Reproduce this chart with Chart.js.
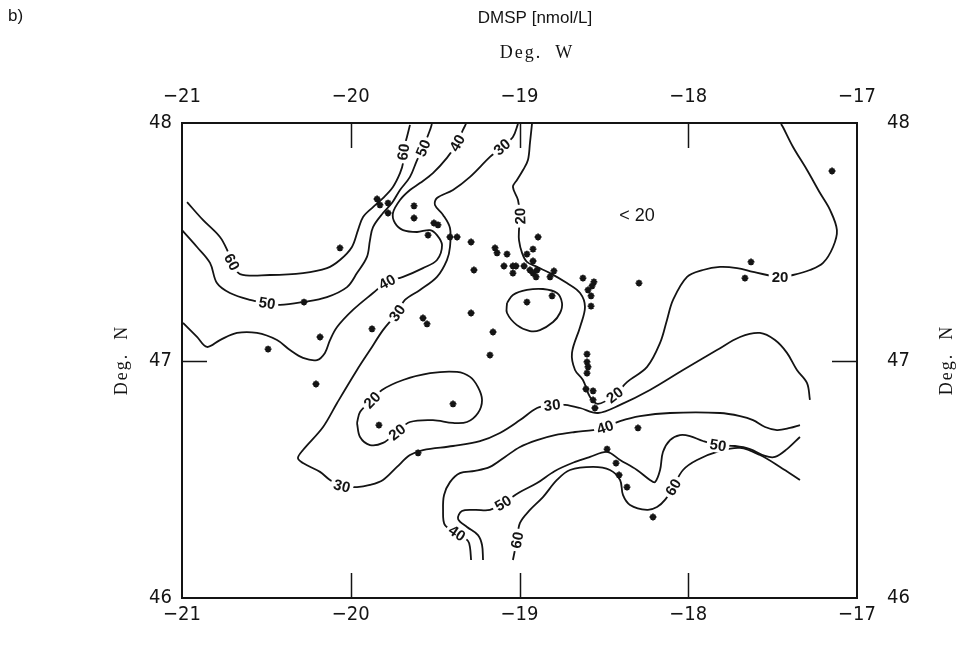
<!DOCTYPE html>
<html>
<head>
<meta charset="utf-8">
<title>DMSP [nmol/L]</title>
<script src="https://cdn.jsdelivr.net/npm/chart.js@4.4.1/dist/chart.umd.min.js"></script>
<style>
  html, body { margin: 0; padding: 0; background: #fff; }
  #wrap { width: 958px; height: 645px; }
</style>
</head>
<body>
<div id="wrap"><canvas id="dmspChart" width="958" height="645"></canvas></div>
<script>
// axis ticks (degrees)
const lonTicks = [-21, -20, -19, -18, -17];
const latTicks = [46, 47, 48];

// sampling stations [lon, lat]
const stations = [
  [-19.844, 47.680], [-19.827, 47.655], [-19.779, 47.663], [-19.779, 47.621],
  [-19.625, 47.651], [-19.625, 47.600], [-19.507, 47.579], [-19.483, 47.571], [-19.542, 47.528],
  [-19.412, 47.520], [-19.370, 47.520], [-19.287, 47.499], [-19.145, 47.474], [-19.133, 47.453], [-19.074, 47.448],
  [-19.270, 47.381], [-19.092, 47.398], [-19.039, 47.398], [-19.021, 47.398], [-19.039, 47.368], [-18.973, 47.398],
  [-18.956, 47.448], [-18.920, 47.469], [-18.890, 47.520], [-18.920, 47.419], [-18.938, 47.381], [-18.920, 47.368],
  [-18.902, 47.352], [-18.896, 47.381], [-18.819, 47.352], [-18.796, 47.377], [-18.956, 47.246], [-18.807, 47.272],
  [-18.624, 47.347], [-18.559, 47.331], [-18.570, 47.314], [-18.594, 47.297], [-18.576, 47.272], [-18.576, 47.229],
  [-18.292, 47.326], [-17.628, 47.415], [-17.664, 47.347], [-17.148, 47.798],
  [-20.064, 47.474], [-20.277, 47.246], [-20.182, 47.099], [-20.490, 47.048], [-19.874, 47.133],
  [-19.572, 47.179], [-19.548, 47.154], [-19.287, 47.200], [-19.157, 47.120], [-19.175, 47.023],
  [-20.206, 46.901], [-19.833, 46.728], [-19.394, 46.817], [-19.601, 46.611],
  [-18.600, 47.027], [-18.600, 46.994], [-18.594, 46.973], [-18.600, 46.947], [-18.606, 46.880], [-18.564, 46.872],
  [-18.564, 46.834], [-18.553, 46.800], [-18.298, 46.716], [-18.481, 46.627], [-18.428, 46.568], [-18.410, 46.518],
  [-18.363, 46.467], [-18.209, 46.341]
];

// contour lines [lon, lat]
const contour60North = [
  [-20.970, 47.667], [-20.876, 47.592], [-20.775, 47.520], [-20.727, 47.457], [-20.704, 47.415], [-20.656, 47.364],
  [-20.479, 47.360], [-20.283, 47.368], [-20.141, 47.389], [-20.064, 47.423], [-19.993, 47.478], [-19.957, 47.549],
  [-19.927, 47.604], [-19.868, 47.646], [-19.809, 47.684], [-19.750, 47.731], [-19.708, 47.789], [-19.690, 47.832],
  [-19.690, 47.878], [-19.667, 47.941], [-19.649, 47.992]
];
const contour50North = [
  [-21.000, 47.549], [-20.911, 47.478], [-20.834, 47.411], [-20.793, 47.326], [-20.716, 47.284], [-20.597, 47.255],
  [-20.496, 47.242], [-20.419, 47.234], [-20.283, 47.246], [-20.141, 47.267], [-20.022, 47.309], [-19.963, 47.368],
  [-19.904, 47.436], [-19.886, 47.507], [-19.868, 47.562], [-19.809, 47.621], [-19.756, 47.663], [-19.708, 47.718],
  [-19.649, 47.773], [-19.607, 47.844], [-19.572, 47.895], [-19.530, 47.971], [-19.519, 47.996]
];
const contour40North = [
  [-20.994, 47.158], [-20.911, 47.099], [-20.852, 47.057], [-20.775, 47.086], [-20.674, 47.116], [-20.556, 47.116],
  [-20.437, 47.086], [-20.360, 47.044], [-20.283, 47.011], [-20.200, 47.002], [-20.153, 47.032], [-20.123, 47.086],
  [-20.081, 47.141], [-19.987, 47.213], [-19.868, 47.284], [-19.785, 47.331], [-19.690, 47.352], [-19.572, 47.389],
  [-19.489, 47.423], [-19.459, 47.486], [-19.489, 47.528], [-19.530, 47.549], [-19.607, 47.541], [-19.690, 47.549],
  [-19.738, 47.579], [-19.750, 47.621], [-19.708, 47.676], [-19.649, 47.718], [-19.590, 47.747], [-19.513, 47.789],
  [-19.430, 47.853], [-19.370, 47.916], [-19.335, 47.971], [-19.317, 47.996]
];
const contour30 = [
  [-19.009, 47.996], [-19.039, 47.941], [-19.104, 47.899], [-19.175, 47.857], [-19.293, 47.773], [-19.394, 47.718],
  [-19.489, 47.684], [-19.501, 47.655], [-19.453, 47.613], [-19.412, 47.558], [-19.412, 47.478], [-19.430, 47.423],
  [-19.489, 47.352], [-19.590, 47.297], [-19.679, 47.255], [-19.726, 47.200], [-19.809, 47.128], [-19.886, 47.044],
  [-19.963, 46.960], [-20.081, 46.821], [-20.164, 46.720], [-20.283, 46.623], [-20.313, 46.589], [-20.283, 46.568],
  [-20.182, 46.531], [-20.123, 46.497], [-20.052, 46.472], [-19.963, 46.467], [-19.886, 46.476], [-19.809, 46.497],
  [-19.726, 46.552], [-19.649, 46.602], [-19.572, 46.623], [-19.394, 46.640], [-19.234, 46.661], [-19.116, 46.695],
  [-18.997, 46.749], [-18.896, 46.800], [-18.807, 46.813], [-18.730, 46.813], [-18.641, 46.800], [-18.535, 46.779],
  [-18.404, 46.813], [-18.227, 46.876], [-18.031, 46.960], [-17.830, 47.044], [-17.693, 47.099], [-17.575, 47.116],
  [-17.486, 47.086], [-17.415, 47.032], [-17.356, 46.960], [-17.296, 46.905], [-17.279, 46.834]
];
const contour20 = [
  [-18.926, 47.996], [-18.938, 47.916], [-18.950, 47.844], [-18.979, 47.802], [-19.015, 47.760], [-19.039, 47.731],
  [-19.009, 47.676], [-18.997, 47.608], [-19.003, 47.549], [-19.003, 47.507], [-18.985, 47.453], [-18.956, 47.415],
  [-18.896, 47.394], [-18.819, 47.368], [-18.719, 47.326], [-18.641, 47.284], [-18.612, 47.225], [-18.641, 47.141],
  [-18.689, 47.032], [-18.671, 46.960], [-18.624, 46.918], [-18.582, 46.846], [-18.535, 46.817], [-18.436, 46.855],
  [-18.363, 46.909], [-18.244, 46.973], [-18.167, 47.074], [-18.126, 47.171], [-18.090, 47.255], [-18.007, 47.352],
  [-17.913, 47.381], [-17.812, 47.394], [-17.711, 47.389], [-17.616, 47.373], [-17.533, 47.360], [-17.456, 47.352],
  [-17.379, 47.360], [-17.279, 47.381], [-17.201, 47.411], [-17.142, 47.478], [-17.119, 47.549], [-17.160, 47.634],
  [-17.219, 47.705], [-17.296, 47.802], [-17.379, 47.899], [-17.439, 47.983], [-17.450, 47.996]
];
const contour20Ring = [
  [-19.074, 47.242], [-19.039, 47.276], [-18.956, 47.297], [-18.861, 47.301], [-18.778, 47.284], [-18.748, 47.242],
  [-18.760, 47.200], [-18.801, 47.162], [-18.879, 47.128], [-18.938, 47.124], [-19.015, 47.149], [-19.074, 47.200],
  [-19.074, 47.242]
];
const contour20West = [
  [-19.963, 46.737], [-19.945, 46.783], [-19.874, 46.834], [-19.815, 46.876], [-19.690, 46.918], [-19.530, 46.947],
  [-19.370, 46.952], [-19.293, 46.931], [-19.246, 46.888], [-19.222, 46.834], [-19.246, 46.779], [-19.311, 46.741],
  [-19.394, 46.737], [-19.513, 46.749], [-19.649, 46.741], [-19.726, 46.699], [-19.809, 46.653], [-19.886, 46.644],
  [-19.945, 46.678], [-19.963, 46.737]
];
const contour40South = [
  [-19.287, 46.160], [-19.293, 46.211], [-19.305, 46.240], [-19.370, 46.274], [-19.442, 46.307], [-19.453, 46.371],
  [-19.447, 46.434], [-19.412, 46.488], [-19.353, 46.526], [-19.264, 46.535], [-19.175, 46.552], [-19.086, 46.594],
  [-18.997, 46.636], [-18.896, 46.665], [-18.790, 46.686], [-18.671, 46.699], [-18.564, 46.707], [-18.493, 46.720],
  [-18.404, 46.745], [-18.286, 46.766], [-18.108, 46.779], [-17.812, 46.779], [-17.693, 46.766], [-17.616, 46.749],
  [-17.545, 46.720], [-17.474, 46.707], [-17.397, 46.716], [-17.338, 46.728]
];
const contour50South = [
  [-19.216, 46.160], [-19.222, 46.223], [-19.246, 46.265], [-19.311, 46.299], [-19.364, 46.333], [-19.341, 46.366],
  [-19.264, 46.371], [-19.175, 46.371], [-19.098, 46.400], [-18.997, 46.446], [-18.896, 46.484], [-18.790, 46.535],
  [-18.671, 46.573], [-18.582, 46.594], [-18.481, 46.615], [-18.404, 46.581], [-18.304, 46.539], [-18.227, 46.497],
  [-18.197, 46.488], [-18.167, 46.539], [-18.150, 46.615], [-18.108, 46.665], [-18.049, 46.686], [-17.990, 46.682],
  [-17.913, 46.661], [-17.824, 46.644], [-17.723, 46.640], [-17.634, 46.627], [-17.545, 46.598], [-17.486, 46.594],
  [-17.415, 46.627], [-17.338, 46.678]
];
const contour60South = [
  [-19.039, 46.160], [-19.027, 46.202], [-19.015, 46.244], [-18.997, 46.316], [-18.938, 46.371], [-18.861, 46.425],
  [-18.778, 46.497], [-18.701, 46.539], [-18.564, 46.552], [-18.464, 46.539], [-18.404, 46.497], [-18.387, 46.434],
  [-18.345, 46.392], [-18.244, 46.371], [-18.185, 46.383], [-18.138, 46.413], [-18.090, 46.467], [-18.031, 46.539],
  [-17.948, 46.581], [-17.812, 46.619], [-17.693, 46.632], [-17.575, 46.602], [-17.456, 46.552], [-17.338, 46.497]
];

// which level each line belongs to
const contourLines = [
  [60, contour60North], [50, contour50North], [40, contour40North], [30, contour30],
  [20, contour20], [20, contour20Ring], [20, contour20West],
  [40, contour40South], [50, contour50South], [60, contour60South]
];

// inline level labels [level, lon, lat]
const levelLabels = [
  [60, -20.704, 47.415], [60, -19.690, 47.878], [50, -20.496, 47.242], [50, -19.572, 47.895],
  [40, -19.370, 47.916], [40, -19.785, 47.331], [30, -19.104, 47.899], [30, -19.726, 47.200],
  [30, -20.052, 46.472], [30, -18.807, 46.813], [20, -18.997, 47.608], [20, -18.436, 46.855],
  [20, -17.456, 47.352], [20, -19.874, 46.834], [20, -19.726, 46.699], [40, -18.493, 46.720],
  [40, -19.370, 46.274], [50, -17.824, 46.644], [50, -19.098, 46.400], [60, -19.015, 46.244],
  [60, -18.090, 46.467]
];

// free-standing note in the low area
const lowNote = ['< 20', -18.304, 47.608];

const toXY = arr => arr.map(p => ({ x: p[0], y: p[1] }));
const ink = '#141414';
const tickFont = { family: '"Liberation Sans Narrow", "DejaVu Sans Condensed", "Liberation Sans", Arial, sans-serif', size: 20 };

function degLabel(v) {
  return v < 0 ? '\u2212' + Math.abs(v) : String(v);
}

// angle of the contour at the label, taken from neighbouring vertices
function labelAngle(chart, level, lon, lat) {
  const xs = chart.scales.x, ys = chart.scales.y;
  const px = xs.getPixelForValue(lon), py = ys.getPixelForValue(lat);
  let best = null, bestD = Infinity;
  contourLines.forEach(([lv, line]) => {
    if (lv !== level) return;
    line.forEach((p, i) => {
      const d = Math.hypot(xs.getPixelForValue(p[0]) - px, ys.getPixelForValue(p[1]) - py);
      if (d < bestD) { bestD = d; best = { line, i }; }
    });
  });
  if (!best) return 0;
  const { line, i } = best;
  const a = line[Math.max(0, i - 1)], b = line[Math.min(line.length - 1, i + 1)];
  let ang = Math.atan2(ys.getPixelForValue(b[1]) - ys.getPixelForValue(a[1]),
                       xs.getPixelForValue(b[0]) - xs.getPixelForValue(a[0])) * 180 / Math.PI;
  while (ang > 80) ang -= 180;
  while (ang <= -100) ang += 180;
  return ang * Math.PI / 180;
}

const mapOverlay = {
  id: 'mapOverlay',
  afterDatasetsDraw(chart) {
    const { ctx, chartArea: a } = chart;
    const xs = chart.scales.x, ys = chart.scales.y;
    ctx.save();

    // inward tick marks
    ctx.strokeStyle = ink;
    ctx.lineWidth = 1.5;
    ctx.beginPath();
    lonTicks.slice(1, -1).forEach(v => {
      const px = Math.round(xs.getPixelForValue(v)) + 0.5;
      ctx.moveTo(px, a.top); ctx.lineTo(px, a.top + 25);
      ctx.moveTo(px, a.bottom); ctx.lineTo(px, a.bottom - 25);
    });
    latTicks.slice(1, -1).forEach(v => {
      const py = Math.round(ys.getPixelForValue(v)) + 0.5;
      ctx.moveTo(a.left, py); ctx.lineTo(a.left + 25, py);
      ctx.moveTo(a.right, py); ctx.lineTo(a.right - 25, py);
    });
    ctx.stroke();

    // level labels sitting in gaps of the lines
    ctx.font = 'bold 15px "Liberation Sans", Arial, sans-serif';
    ctx.textAlign = 'center';
    ctx.textBaseline = 'middle';
    levelLabels.forEach(([lv, lon, lat]) => {
      const txt = String(lv);
      const w = ctx.measureText(txt).width;
      ctx.save();
      ctx.translate(xs.getPixelForValue(lon), ys.getPixelForValue(lat));
      ctx.rotate(labelAngle(chart, lv, lon, lat));
      ctx.fillStyle = '#fff';
      ctx.fillRect(-w / 2 - 3, -7.5, w + 6, 15);
      ctx.fillStyle = ink;
      ctx.fillText(txt, 0, 1);
      ctx.restore();
    });

    ctx.font = '18px "Liberation Sans", Arial, sans-serif';
    ctx.fillStyle = ink;
    ctx.fillText(lowNote[0], xs.getPixelForValue(lowNote[1]), ys.getPixelForValue(lowNote[2]));
    ctx.restore();
  },
  afterDraw(chart) {
    const { ctx } = chart;
    ctx.save();
    ctx.fillStyle = ink;
    ctx.textBaseline = 'middle';

    ctx.font = '17px "Liberation Sans", Arial, sans-serif';
    ctx.textAlign = 'left';
    ctx.fillText('b)', 8, 16);
    ctx.textAlign = 'center';
    ctx.fillText('DMSP [nmol/L]', 535, 18);

    ctx.font = '18px "Liberation Serif", "DejaVu Serif", serif';
    ctx.letterSpacing = '2px';
    ctx.fillText('Deg.  W', 537, 53);

    [122, 947].forEach(x => {
      ctx.save();
      ctx.translate(x, 360);
      ctx.rotate(-Math.PI / 2);
      ctx.fillText('Deg.  N', 0, 0);
      ctx.restore();
    });
    ctx.restore();
  }
};

function axis(position, min, max, values, size, pad) {
  const horizontal = position === 'top' || position === 'bottom';
  return {
    type: 'linear',
    position,
    min, max,
    afterBuildTicks: s => { s.ticks = values.map(v => ({ value: v })); },
    afterFit: s => { if (horizontal) s.height = size; else s.width = size; },
    ticks: {
      callback: degLabel,
      font: tickFont,
      color: ink,
      padding: pad,
      maxRotation: 0,
      autoSkip: false
    },
    grid: { display: false, drawTicks: false },
    border: { display: true, color: ink, width: 2 }
  };
}

new Chart(document.getElementById('dmspChart'), {
  type: 'scatter',
  data: {
    datasets: [
      {
        label: 'stations',
        data: toXY(stations),
        pointStyle: 'star',
        pointRadius: 3.4,
        borderColor: ink,
        backgroundColor: ink,
        borderWidth: 1.8,
        showLine: false
      },
      ...contourLines.map(([lv, line]) => ({
        label: lv + ' nmol/L',
        data: toXY(line),
        showLine: true,
        fill: false,
        tension: 0.35,
        borderColor: ink,
        borderWidth: 1.8,
        pointRadius: 0
      }))
    ]
  },
  options: {
    responsive: false,
    animation: false,
    layout: { padding: 0 },
    plugins: {
      legend: { display: false },
      tooltip: { enabled: false }
    },
    scales: {
      x: axis('bottom', -21, -17, lonTicks, 47, 5),
      x2: axis('top', -21, -17, lonTicks, 123, 14),
      y: axis('left', 46, 48, latTicks, 182, 10),
      y2: axis('right', 46, 48, latTicks, 101, 30)
    }
  },
  plugins: [mapOverlay]
});
</script>
</body>
</html>
